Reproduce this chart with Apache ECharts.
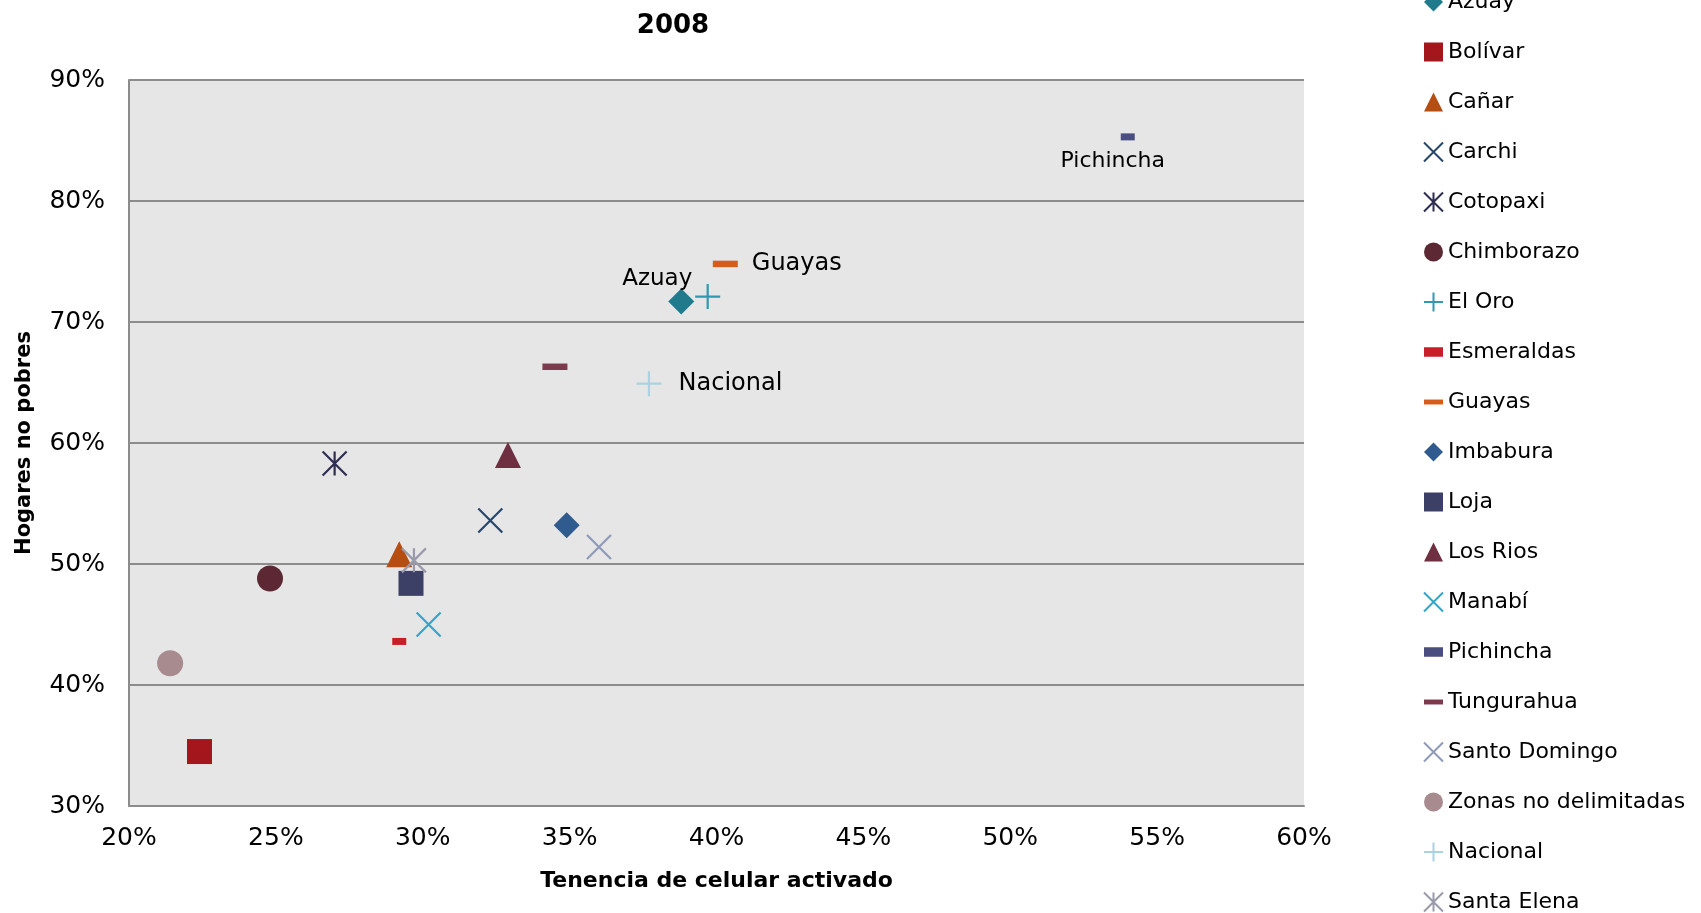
<!DOCTYPE html>
<html>
<head>
<meta charset="utf-8">
<script src="https://cdn.jsdelivr.net/npm/echarts@6/dist/echarts.min.js"></script>
<style>
html,body{margin:0;padding:0;background:#fff;}
#c{width:1701px;height:913px;}
</style>
</head>
<body>
<div id="c"></div>
<script>
// ---- data ----
const provinces = ['Azuay','Bolívar','Cañar','Carchi','Cotopaxi','Chimborazo','El Oro','Esmeraldas','Guayas','Imbabura','Loja','Los Rios','Manabí','Pichincha','Tungurahua','Santo Domingo','Zonas no delimitadas','Nacional','Santa Elena'];
const celular =   [0.388, 0.224, 0.292, 0.323, 0.270, 0.248, 0.397, 0.292, 0.403, 0.349, 0.296, 0.329, 0.302, 0.540, 0.345, 0.360, 0.214, 0.377, 0.297];
const noPobres =  [0.717, 0.345, 0.508, 0.536, 0.583, 0.488, 0.721, 0.436, 0.748, 0.532, 0.484, 0.590, 0.450, 0.853, 0.663, 0.514, 0.418, 0.649, 0.503];
const xTicks = [0.20,0.25,0.30,0.35,0.40,0.45,0.50,0.55,0.60];
const yTicks = [0.30,0.40,0.50,0.60,0.70,0.80,0.90];

// ---- styles ----
const FONT = 'DejaVu Sans';
const X = 'path://M0,0L10,10M10,0L0,10';
const AST = 'path://M0,0L10,10M10,0L0,10M5,0L5,10';
const PLUS = 'path://M5,0L5,10M0,5L10,5';
const DASH = 'path://M0,0L10,0L10,2.6L0,2.6Z';
const SDASH = 'path://M0,0L10,0L10,5L0,5Z';
const styles = {
  'Azuay':               {sym:'diamond', size:26, c:'#1f7a8c', fill:true},
  'Bolívar':             {sym:'rect', size:25, c:'#a3161c', fill:true},
  'Cañar':               {sym:'triangle', size:26, c:'#b64d11', fill:true},
  'Carchi':              {sym:X, size:24, c:'#27466b', fill:false},
  'Cotopaxi':            {sym:AST, size:24, c:'#2e2d52', fill:false},
  'Chimborazo':          {sym:'circle', size:26, c:'#5c2834', fill:true},
  'El Oro':              {sym:PLUS, size:25, c:'#2f98b3', fill:false},
  'Esmeraldas':          {sym:SDASH, size:[14,7], c:'#c81e2a', fill:true},
  'Guayas':              {sym:DASH, size:[25,6.5], c:'#d65c1c', fill:true},
  'Imbabura':            {sym:'diamond', size:26, c:'#2f5b8f', fill:true},
  'Loja':                {sym:'rect', size:25, c:'#3c3f66', fill:true},
  'Los Rios':            {sym:'triangle', size:26, c:'#6e2f40', fill:true},
  'Manabí':              {sym:X, size:24, c:'#33a6c3', fill:false},
  'Pichincha':           {sym:SDASH, size:[14,7], c:'#4a4d80', fill:true},
  'Tungurahua':          {sym:DASH, size:[25,6.5], c:'#7c3a4c', fill:true},
  'Santo Domingo':       {sym:X, size:24, c:'#8e9ab8', fill:false},
  'Zonas no delimitadas':{sym:'circle', size:26, c:'#a88b8f', fill:true},
  'Nacional':            {sym:PLUS, size:25, c:'#a9d3e0', fill:false},
  'Santa Elena':         {sym:AST, size:24, c:'#9a9aab', fill:false}
};
const labelPos = {
  'Pichincha': {position:'bottom', offset:[-15,5], fontSize:22},
  'Azuay': {position:'top', offset:[-24,7], fontSize:23},
  'Guayas': {position:'right', distance:14, offset:[0,0], fontSize:24},
  'Nacional': {position:'right', distance:16, offset:[0,0], fontSize:24}
};

const series = provinces.map((p,i)=>{
  const s = styles[p];
  const lp = labelPos[p];
  return {
    name:p, type:'scatter',
    symbol:s.sym, symbolSize:s.size, symbolKeepAspect:false,
    data:[[celular[i], noPobres[i]]],
    itemStyle: s.fill ? {color:s.c, opacity:1} : {color:'rgba(0,0,0,0)', borderColor:s.c, borderWidth:2.2, opacity:1},
    label: lp ? Object.assign({show:true, formatter:p, color:'#000', fontFamily:FONT}, lp) : {show:false},
    emphasis:{disabled:true},
    z: 5
  };
});

const chart = echarts.init(document.getElementById('c'), null, {renderer:'canvas'});
chart.setOption({
  animation:false,
  backgroundColor:'#ffffff',
  title:{
    text:'2008', left:668, top:8, textAlign:'center',
    textStyle:{fontFamily:FONT, fontWeight:'bold', fontSize:26, color:'#000'}
  },
  legend:{
    type:'plain',
    orient:'vertical', left:1418, top:-14, height:960, width:300,
    itemWidth:19, itemHeight:19, itemGap:28,
    textStyle:{fontFamily:FONT, fontSize:22, color:'#000'},
    data: provinces,
    selectedMode:false
  },
  grid:{
    left:129, right:397, top:80, bottom:107,
    outerBoundsMode:'none', containLabel:false,
    show:true, backgroundColor:'#e6e6e6', borderWidth:0
  },
  xAxis:{
    type:'value', min:0.20, max:0.60, interval:0.05,
    name:'Tenencia de celular activado', nameLocation:'middle', nameGap:64,
    nameTextStyle:{fontFamily:FONT, fontWeight:'bold', fontSize:22, color:'#000'},
    axisLine:{show:true, lineStyle:{color:'#8c8c8c', width:2}},
    axisTick:{show:false},
    splitLine:{show:false},
    axisLabel:{fontFamily:FONT, fontSize:25, color:'#000', margin:20,
      formatter:v=>Math.round(v*100)+'%'}
  },
  yAxis:{
    type:'value', min:0.30, max:0.90, interval:0.10,
    name:'Hogares no pobres', nameLocation:'middle', nameGap:94,
    nameTextStyle:{fontFamily:FONT, fontWeight:'bold', fontSize:21, color:'#000'},
    axisLine:{show:true, lineStyle:{color:'#8c8c8c', width:2}},
    axisTick:{show:false},
    splitLine:{show:true, lineStyle:{color:'#8c8c8c', width:2}},
    axisLabel:{fontFamily:FONT, fontSize:25, color:'#000', margin:24,
      formatter:v=>Math.round(v*100)+'%'}
  },
  series: series
});
</script>
</body>
</html>
